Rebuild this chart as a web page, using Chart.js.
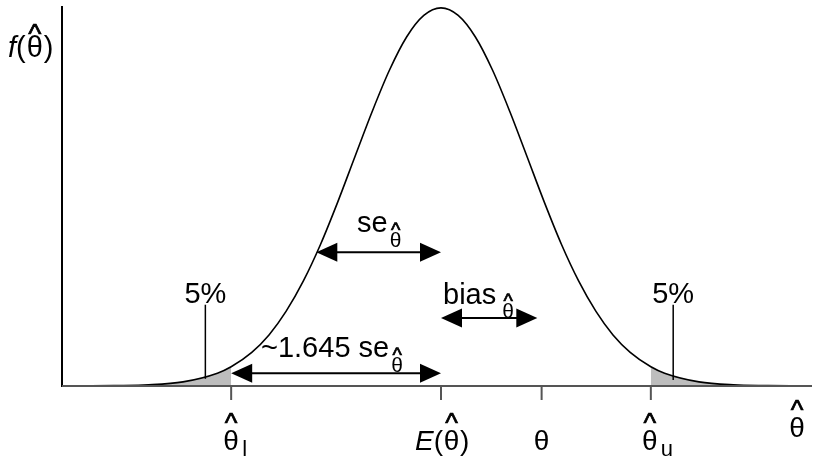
<!DOCTYPE html>
<html>
<head>
<meta charset="utf-8">
<script src="https://cdn.jsdelivr.net/npm/chart.js@4.4.1/dist/chart.umd.min.js"></script>
<style>
  html, body { margin: 0; padding: 0; background: #fff; }
  #chart { display: block; }
</style>
</head>
<body>
<canvas id="chart" width="815" height="463"></canvas>
<script>
// sampling distribution of the estimator, in units of its standard error
var curveX = [-4.2, -3.8, -3.4, -3.0, -2.6, -2.44, -2.2, -2.0, -1.8, -1.6, -1.4, -1.2, -1.0, -0.8, -0.6, -0.4, -0.2, 0,
              0.2, 0.4, 0.6, 0.8, 1.0, 1.2, 1.4, 1.6, 1.8, 2.0, 2.2, 2.44, 2.6, 3.0, 3.4, 3.8, 4.2];
var curveY = [0.000, 0.001, 0.003, 0.011, 0.034, 0.051, 0.089, 0.135, 0.198, 0.278, 0.375, 0.487, 0.607, 0.726, 0.835, 0.923, 0.980, 1.000,
              0.980, 0.923, 0.835, 0.726, 0.607, 0.487, 0.375, 0.278, 0.198, 0.135, 0.089, 0.051, 0.034, 0.011, 0.003, 0.001, 0.000];

// x axis ticks: lower limit, expectation, true value, upper limit
var tickValues = [-2.44, 0, 1.17, 2.44];
var lowerLimit = -2.44;
var upperLimit = 2.44;

// arrows: [from, to, height]
var seArrow = [-1.45, 0, 0.354];
var ciArrow = [-2.44, 0, 0.034];
var biasArrow = [0, 1.12, 0.18];

// 5% markers: [x, bottom, top]
var tailMarks = [[-2.74, 0.019, 0.215], [2.70, 0.016, 0.215]];

function pts(lo, hi) {
    var out = [];
    for (var i = 0; i < curveX.length; i++) {
        if (curveX[i] >= lo && curveX[i] <= hi) out.push({x: curveX[i], y: curveY[i]});
    }
    return out;
}

var SANS = '"Liberation Sans", Arial, Helvetica, sans-serif';

function hatTheta(c, x, base, size, gap) {
    // theta with a hat over it, centred on x; gap = space between theta and hat
    c.textAlign = 'center';
    c.font = size + 'px ' + SANS;
    c.fillText('\u03b8', x, base);
    var hs = Math.round(size * 0.95);
    var hb = base - size * 0.73 - gap + hs * 0.36;
    c.font = hs + 'px ' + SANS;
    c.lineWidth = 0.7;
    c.fillText('^', x, hb);
    c.strokeText('^', x, hb);
}

function label(c, s, x, base, size, italic) {
    c.textAlign = 'left';
    c.font = (italic ? 'italic ' : '') + size + 'px ' + SANS;
    c.fillText(s, x, base);
    return c.measureText(s).width;
}

function arrow(c, x1, x2, y) {
    var len = 21, half = 9.5;
    c.lineWidth = 2;
    c.beginPath();
    c.moveTo(x1 + len - 2, y);
    c.lineTo(x2 - len + 2, y);
    c.stroke();
    c.beginPath();
    c.moveTo(x1, y); c.lineTo(x1 + len, y - half); c.lineTo(x1 + len, y + half); c.closePath();
    c.fill();
    c.beginPath();
    c.moveTo(x2, y); c.lineTo(x2 - len, y - half); c.lineTo(x2 - len, y + half); c.closePath();
    c.fill();
}

var annotations = {
    id: 'annotations',
    afterDatasetsDraw: function(chart) {
        var c = chart.ctx;
        var xs = chart.scales.x, ys = chart.scales.y;
        var area = chart.chartArea;
        var px = function(v) { return xs.getPixelForValue(v); };
        var py = function(v) { return ys.getPixelForValue(v); };
        c.save();

        // axes
        c.lineWidth = 2;
        c.strokeStyle = '#000';
        c.beginPath();
        c.moveTo(area.left, area.top);
        c.lineTo(area.left, area.bottom + 1);
        c.stroke();
        c.strokeStyle = '#555';
        c.beginPath();
        c.moveTo(area.left, area.bottom);
        c.lineTo(area.right, area.bottom);
        c.stroke();
        tickValues.forEach(function(v) {
            c.beginPath();
            c.moveTo(px(v), area.bottom);
            c.lineTo(px(v), area.bottom + 14);
            c.stroke();
        });

        c.fillStyle = '#000';
        c.strokeStyle = '#000';

        // 5% markers
        c.lineWidth = 1.5;
        tailMarks.forEach(function(m) {
            c.beginPath();
            c.moveTo(px(m[0]), py(m[1]));
            c.lineTo(px(m[0]), py(m[2]));
            c.stroke();
            c.textAlign = 'center';
            c.font = '29px ' + SANS;
            c.fillText('5%', px(m[0]), py(m[2]) - 2);
        });

        // arrows
        arrow(c, px(seArrow[0]), px(seArrow[1]), py(seArrow[2]));
        arrow(c, px(ciArrow[0]), px(ciArrow[1]), py(ciArrow[2]));
        arrow(c, px(biasArrow[0]), px(biasArrow[1]), py(biasArrow[2]));

        // se label
        var y = py(seArrow[2]) - 20;
        var x = 357;
        x += label(c, 'se', x, y, 29);
        hatTheta(c, x + 8, y + 15, 21, 2);

        // ~1.645 se label
        y = py(ciArrow[2]) - 16;
        x = 261;
        x += label(c, '~1.645 se', x, y, 29);
        hatTheta(c, x + 8, y + 15, 21, 2);

        // bias label
        y = py(biasArrow[2]) - 14;
        x = px(biasArrow[0]) + 2;
        x += label(c, 'bias', x, y, 29);
        hatTheta(c, x + 12, y + 14, 21, 2);

        // axis labels
        var base = 450;
        hatTheta(c, px(tickValues[0]), base, 28, 7);
        label(c, 'l', px(tickValues[0]) + 11, base + 6, 22);

        var ex = px(tickValues[1]) - 26;
        ex += label(c, 'E', ex, base, 28, true);
        ex += label(c, '(', ex, base, 28);
        hatTheta(c, ex + 8.5, base, 28, 7);
        label(c, ')', ex + 17, base, 28);

        c.textAlign = 'center';
        c.font = '28px ' + SANS;
        c.fillText('\u03b8', px(tickValues[2]), base);

        hatTheta(c, px(tickValues[3]) - 1, base, 28, 7);
        label(c, 'u', px(tickValues[3]) + 10, base + 6, 22);

        hatTheta(c, area.right - 15, 437, 28, 7);

        // y axis label
        var fx = 8;
        fx += label(c, 'f', fx, 57, 29, true);
        fx += label(c, '(', fx, 57, 29);
        hatTheta(c, fx + 9, 57, 29, 3);
        label(c, ')', fx + 18, 57, 29);

        c.restore();
    }
};

var tailStyle = {
    borderWidth: 0,
    pointRadius: 0,
    backgroundColor: '#bdbdbd',
    fill: 'origin',
    cubicInterpolationMode: 'monotone',
    order: 2
};

new Chart(document.getElementById('chart').getContext('2d'), {
    type: 'line',
    data: {
        datasets: [
            {
                data: pts(-10, 10),
                borderColor: '#000',
                borderWidth: 1.6,
                pointRadius: 0,
                fill: false,
                cubicInterpolationMode: 'monotone',
                order: 1
            },
            Object.assign({data: pts(-10, lowerLimit)}, tailStyle),
            Object.assign({data: pts(upperLimit, 10)}, tailStyle)
        ]
    },
    options: {
        responsive: false,
        animation: false,
        layout: {padding: {left: 62, right: 3, top: 6, bottom: 77}},
        plugins: {legend: {display: false}, tooltip: {enabled: false}},
        scales: {
            x: {type: 'linear', min: -4.407, max: 4.314, display: false},
            y: {min: 0, max: 1.005, display: false}
        }
    },
    plugins: [annotations]
});
</script>
</body>
</html>
